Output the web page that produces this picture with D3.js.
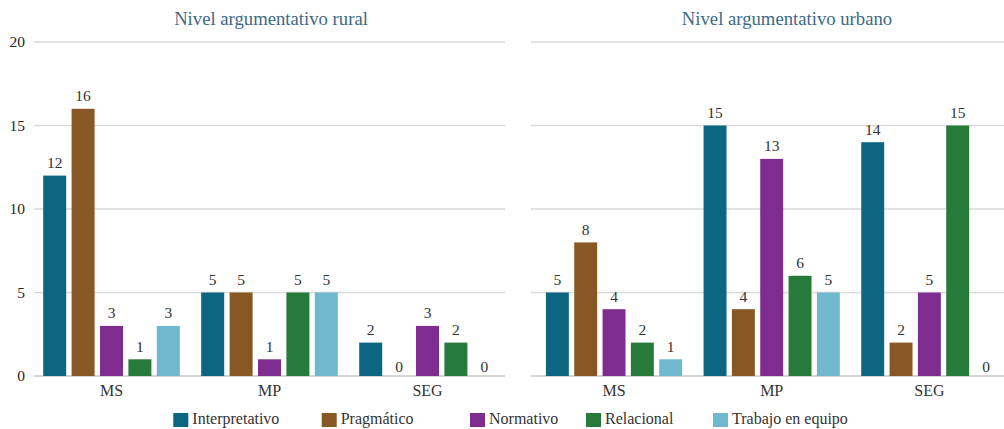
<!DOCTYPE html>
<html><head><meta charset="utf-8">
<script src="https://cdn.jsdelivr.net/npm/d3@7"></script>
<style>body{margin:0;background:#fff}svg{display:block}text{font-family:"Liberation Serif","DejaVu Serif",serif}</style>
</head><body><svg id="c" width="1004" height="429"></svg>
<script>
const categories = ["MS", "MP", "SEG"];
const seriesNames = ["Interpretativo", "Pragmático", "Normativo", "Relacional", "Trabajo en equipo"];
const seriesColors = ["#0c6581", "#875824", "#7e2c8f", "#277b3a", "#6fb8ce"];
const ruralValues = [[12, 16, 3, 1, 3], [5, 5, 1, 5, 5], [2, 0, 3, 2, 0]];
const urbanValues = [[5, 8, 4, 2, 1], [15, 4, 13, 6, 5], [14, 2, 5, 15, 0]];
const yTicks = [0, 5, 10, 15, 20];
const panelTitles = ["Nivel argumentativo rural", "Nivel argumentativo urbano"];

const svg = d3.select("#c");
const y = d3.scaleLinear().domain([0, 20]).range([376, 42]);

const panels = [
  {title: panelTitles[0], data: ruralValues, grid: [34, 505], band: [32.5, 506.5], titleX: 271, axis: true},
  {title: panelTitles[1], data: urbanValues, grid: [531, 1004], band: [535.2, 1008.2], titleX: 787, axis: false}
];

panels.forEach(p => {
  const g = svg.append("g");
  const x0 = d3.scaleBand().domain(categories).range(p.band).padding(0);
  const inset = 10.7;
  const x1 = d3.scaleBand().domain(seriesNames).range([inset, x0.bandwidth() - inset]).paddingInner(0.19).paddingOuter(0);
  g.selectAll("line.grid").data(yTicks).join("line")
    .attr("x1", p.grid[0]).attr("x2", p.grid[1])
    .attr("y1", d => y(d)).attr("y2", d => y(d))
    .attr("stroke", d => d === 0 ? "#c8c8c8" : "#d9d9d9").attr("stroke-width", 1.5);
  if (p.axis) {
    g.selectAll("text.yt").data(yTicks).join("text")
      .attr("x", 25).attr("y", d => y(d)).attr("dy", "0.35em")
      .attr("text-anchor", "end").attr("font-size", 15.5).attr("fill", "#262626").text(d => d);
  }
  g.append("text").attr("x", p.titleX).attr("y", 25)
    .attr("text-anchor", "middle").attr("font-size", 18.7).attr("fill", "#3d6a85").text(p.title);
  categories.forEach((c, ci) => {
    const gg = g.append("g").attr("transform", `translate(${x0(c)},0)`);
    const rows = seriesNames.map((s, si) => ({s, v: p.data[ci][si], col: seriesColors[si]}));
    gg.selectAll("rect").data(rows).join("rect")
      .attr("x", d => x1(d.s)).attr("width", x1.bandwidth())
      .attr("y", d => y(d.v)).attr("height", d => y(0) - y(d.v))
      .attr("fill", d => d.col);
    gg.selectAll("text").data(rows).join("text")
      .attr("x", d => x1(d.s) + x1.bandwidth() / 2)
      .attr("y", d => y(d.v) - (d.v === 0 ? 4 : 7.5))
      .attr("text-anchor", "middle").attr("font-size", 15.5).attr("fill", "#333").text(d => d.v);
    g.append("text").attr("x", x0(c) + x0.bandwidth() / 2).attr("y", 390).attr("dy", "0.35em")
      .attr("text-anchor", "middle").attr("font-size", 16).attr("fill", "#333").text(c);
  });
});

const legendX = [173.3, 321.7, 470, 586, 713];
const lg = svg.append("g");
seriesNames.forEach((s, i) => {
  lg.append("rect").attr("x", legendX[i]).attr("y", 413).attr("width", 15).attr("height", 14).attr("fill", seriesColors[i]);
  lg.append("text").attr("x", legendX[i] + 19).attr("y", 424)
    .attr("font-size", 16).attr("fill", "#333").text(s);
});
</script></body></html>
